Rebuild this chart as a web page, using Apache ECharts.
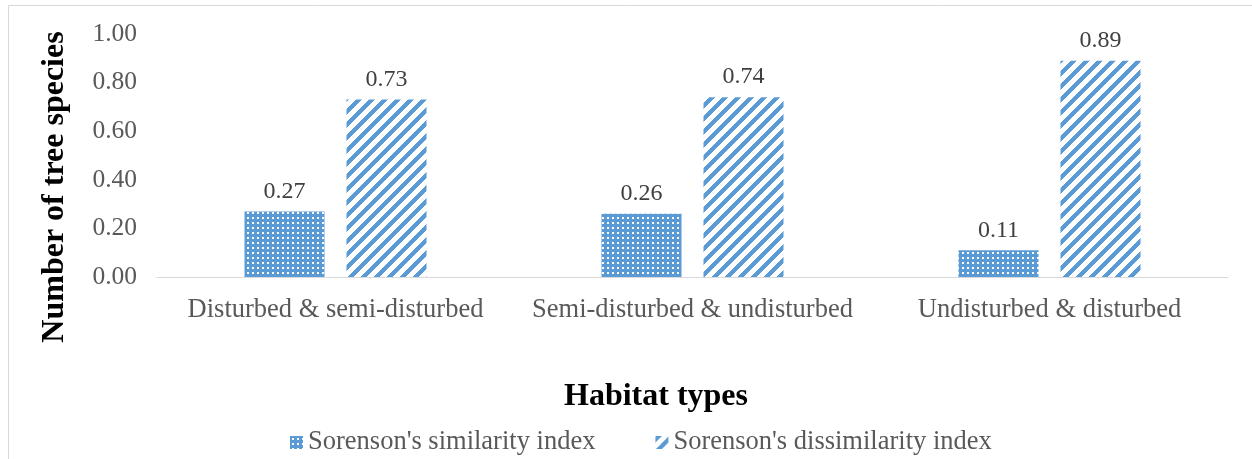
<!DOCTYPE html>
<html>
<head>
<meta charset="utf-8">
<script src="https://cdn.jsdelivr.net/npm/echarts@6/dist/echarts.min.js"></script>
<style>
  html, body { margin: 0; padding: 0; background: #ffffff; }
  #chart { width: 1252px; height: 459px; }
</style>
</head>
<body>
<div id="chart"></div>
<script>
// Habitat pairs compared
const categories = ['Disturbed & semi-disturbed', 'Semi-disturbed & undisturbed', 'Undisturbed & disturbed'];
// Sorenson's indices per pair
const similarity = [0.27, 0.26, 0.11];
const dissimilarity = [0.73, 0.74, 0.89];
const seriesNames = ["Sorenson's similarity index", "Sorenson's dissimilarity index"];
const yTicks = [0, 0.2, 0.4, 0.6, 0.8, 1.0];

const BLUE = '#5B9BD5';
const SERIF = '"Liberation Serif", "Times New Roman", serif';

// Dotted fill: blue tile with a small white square
function dotPattern() {
  const c = document.createElement('canvas');
  c.width = 5; c.height = 5;
  const g = c.getContext('2d');
  g.fillStyle = BLUE;
  g.fillRect(0, 0, 5, 5);
  g.fillStyle = '#ffffff';
  g.fillRect(2, 2, 2, 2);
  return c;
}

// Diagonal hatch: "/" stripes drawn pixel by pixel so the tile repeats seamlessly
function hatchPattern(size, band) {
  const c = document.createElement('canvas');
  c.width = size; c.height = size;
  const g = c.getContext('2d');
  g.fillStyle = '#ffffff';
  g.fillRect(0, 0, size, size);
  g.fillStyle = BLUE;
  for (let y = 0; y < size; y++) {
    for (let x = 0; x < size; x++) {
      if ((x + y) % size < band) g.fillRect(x, y, 1, 1);
    }
  }
  return c;
}

const chart = echarts.init(document.getElementById('chart'), null, { renderer: 'canvas' });

const option = {
  backgroundColor: '#ffffff',
  animation: false,
  grid: { left: 157, right: 24, top: 34, bottom: 182, containLabel: false },
  legend: {
    left: 290,
    top: 429,
    padding: 0,
    itemWidth: 13,
    itemHeight: 13,
    itemGap: 60,
    icon: 'rect',
    textStyle: { fontFamily: SERIF, fontSize: 26.5, color: '#595959' },
    data: seriesNames
  },
  xAxis: {
    type: 'category',
    data: categories,
    axisLine: { show: true, lineStyle: { color: '#D9D9D9', width: 1 } },
    axisTick: { show: false },
    axisLabel: { interval: 0, fontFamily: SERIF, fontSize: 26.5, color: '#595959', margin: 20 },
    splitLine: { show: false }
  },
  yAxis: {
    type: 'value',
    min: yTicks[0],
    max: yTicks[yTicks.length - 1],
    interval: yTicks[1] - yTicks[0],
    axisLine: { show: false },
    axisTick: { show: false },
    splitLine: { show: false },
    axisLabel: {
      fontFamily: SERIF, fontSize: 25.5, color: '#595959', margin: 20,
      formatter: v => v.toFixed(2)
    }
  },
  series: [
    {
      name: seriesNames[0],
      type: 'bar',
      data: similarity,
      barWidth: 80,
      barGap: '27.5%',
      itemStyle: { color: { image: dotPattern(), repeat: 'repeat' } },
      label: {
        show: true, position: 'top', distance: 8,
        fontFamily: SERIF, fontSize: 24, color: '#404040',
        formatter: p => p.value.toFixed(2)
      }
    },
    {
      name: seriesNames[1],
      type: 'bar',
      data: dissimilarity,
      barWidth: 80,
      itemStyle: { color: { image: hatchPattern(13, 6), repeat: 'repeat' } },
      label: {
        show: true, position: 'top', distance: 8,
        fontFamily: SERIF, fontSize: 24, color: '#404040',
        formatter: p => p.value.toFixed(2)
      }
    }
  ],
  graphic: [
    {
      type: 'rect',
      shape: { x: 8.5, y: 5.5, width: 1400, height: 600 },
      style: { fill: null, stroke: '#D9D9D9', lineWidth: 1 },
      z: -1
    },
    {
      type: 'text',
      x: 656, y: 397,
      style: {
        text: 'Habitat types',
        font: 'bold 32px ' + SERIF,
        fill: '#000000',
        align: 'center',
        verticalAlign: 'middle'
      }
    },
    {
      type: 'text',
      x: 55, y: 187,
      rotation: Math.PI / 2,
      style: {
        text: 'Number of tree species',
        font: 'bold 32px ' + SERIF,
        fill: '#000000',
        align: 'center',
        verticalAlign: 'middle'
      }
    }
  ]
};

chart.setOption(option);
</script>
</body>
</html>
